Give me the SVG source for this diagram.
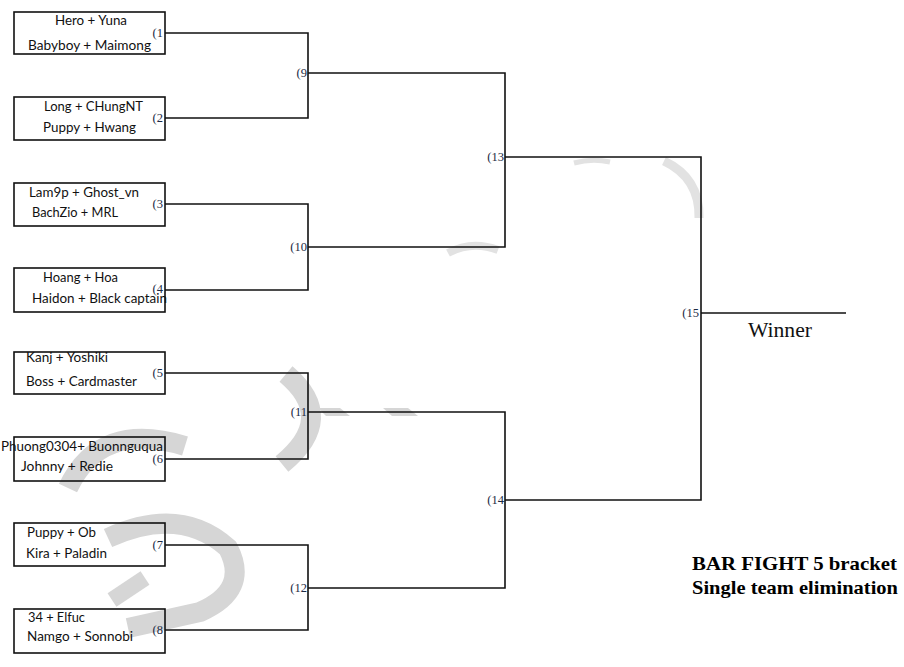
<svg xmlns="http://www.w3.org/2000/svg" width="904" height="667" viewBox="0 0 904 667">
<style>
.wm{fill:none;stroke:#d6d6d6;stroke-linecap:butt}
.wm2{fill:none;stroke:#e2e2e2;stroke-linecap:butt}
.wmf{fill:#d6d6d6}
.box{fill:none;stroke:#111;stroke-width:1.6}
.ln{fill:none;stroke:#111;stroke-width:1.6}
.team{font-family:Lato,"Liberation Sans",sans-serif;font-size:13px;fill:#111}
.lab{font-family:"Liberation Serif",serif;font-size:12.5px;fill:#1c2a44;text-anchor:end}
.win{font-family:"Liberation Serif",serif;font-size:21px;fill:#111}
.title{font-family:"Liberation Serif",serif;font-size:19px;font-weight:bold;fill:#000}
</style>
<rect width="904" height="667" fill="#fff"/>
<g id="watermark">
<path class="wm" stroke-width="20" d="M68 488 Q100 420 185 446"/>
<path class="wm" stroke-width="20" d="M108 538 Q180 505 228 548 Q250 590 200 612 L128 628"/>
<path class="wm" stroke-width="16" d="M112 600 L145 578"/>
<path class="wm" stroke-width="20" d="M286 374 Q338 418 282 464"/>
<polygon class="wmf" points="318,408 340,408 350,416 326,416"/>
<polygon class="wmf" points="383,408 408,408 418,416 392,416"/>
<path class="wm2" stroke-width="8" d="M448 253 Q472 240 498 250"/>
<path class="wm2" stroke-width="5" d="M574 163 Q592 158 610 162"/>
<path class="wm2" stroke-width="9" d="M664 161 Q700 178 699 218"/>
</g>
<g id="connectors">
<path class="ln" d="M165 33 H308 V118 H165"/>
<path class="ln" d="M165 204 H308 V290 H165"/>
<path class="ln" d="M165 373 H308 V459 H165"/>
<path class="ln" d="M165 545 H308 V630 H165"/>
<path class="ln" d="M308 73 H505 V247 H308"/>
<path class="ln" d="M308 412 H505 V588 H308"/>
<path class="ln" d="M505 157 H701 V500 H505"/>
<path class="ln" d="M701 313 H846"/>
</g>
<g id="team1"><rect class="box" x="14" y="12" width="151" height="42"/>
<text class="team" x="55" y="25" textLength="72" lengthAdjust="spacingAndGlyphs">Hero + Yuna</text>
<text class="team" x="28" y="50" textLength="123" lengthAdjust="spacingAndGlyphs">Babyboy + Maimong</text></g>
<g id="team2"><rect class="box" x="14" y="97" width="151" height="43"/>
<text class="team" x="44" y="111" textLength="99" lengthAdjust="spacingAndGlyphs">Long + CHungNT</text>
<text class="team" x="43" y="132" textLength="93" lengthAdjust="spacingAndGlyphs">Puppy + Hwang</text></g>
<g id="team3"><rect class="box" x="14" y="183" width="151" height="43"/>
<text class="team" x="29" y="197" textLength="110" lengthAdjust="spacingAndGlyphs">Lam9p + Ghost_vn</text>
<text class="team" x="32" y="217" textLength="86" lengthAdjust="spacingAndGlyphs">BachZio + MRL</text></g>
<g id="team4"><rect class="box" x="14" y="268" width="151" height="44"/>
<text class="team" x="43" y="282" textLength="75" lengthAdjust="spacingAndGlyphs">Hoang + Hoa</text>
<text class="team" x="32" y="303" textLength="135" lengthAdjust="spacingAndGlyphs">Haidon + Black captain</text></g>
<g id="team5"><rect class="box" x="14" y="352" width="151" height="42"/>
<text class="team" x="26" y="362" textLength="82" lengthAdjust="spacingAndGlyphs">Kanj + Yoshiki</text>
<text class="team" x="26" y="386" textLength="111" lengthAdjust="spacingAndGlyphs">Boss + Cardmaster</text></g>
<g id="team6"><rect class="box" x="14" y="437" width="151" height="44"/>
<text class="team" x="1" y="451" textLength="162" lengthAdjust="spacingAndGlyphs">Phuong0304+ Buonnguqua</text>
<text class="team" x="21" y="471" textLength="92" lengthAdjust="spacingAndGlyphs">Johnny + Redie</text></g>
<g id="team7"><rect class="box" x="14" y="523" width="151" height="43"/>
<text class="team" x="27" y="537" textLength="69" lengthAdjust="spacingAndGlyphs">Puppy + Ob</text>
<text class="team" x="26" y="558" textLength="81" lengthAdjust="spacingAndGlyphs">Kira + Paladin</text></g>
<g id="team8"><rect class="box" x="14" y="609" width="151" height="44"/>
<text class="team" x="28" y="622" textLength="57" lengthAdjust="spacingAndGlyphs">34 + Elfuc</text>
<text class="team" x="27" y="641" textLength="106" lengthAdjust="spacingAndGlyphs">Namgo + Sonnobi</text></g>
<g id="labels">
<text class="lab" x="163" y="37">(1</text>
<text class="lab" x="163" y="122">(2</text>
<text class="lab" x="163" y="208">(3</text>
<text class="lab" x="163" y="293">(4</text>
<text class="lab" x="163" y="377">(5</text>
<text class="lab" x="163" y="463">(6</text>
<text class="lab" x="163" y="549">(7</text>
<text class="lab" x="163" y="634">(8</text>
<text class="lab" x="307" y="77">(9</text>
<text class="lab" x="307" y="251">(10</text>
<text class="lab" x="307" y="416">(11</text>
<text class="lab" x="307" y="592">(12</text>
<text class="lab" x="504" y="161">(13</text>
<text class="lab" x="504" y="504">(14</text>
<text class="lab" x="699" y="317">(15</text>
</g>
<g id="winner"><text class="win" x="748" y="337" textLength="64" lengthAdjust="spacingAndGlyphs">Winner</text></g>
<g id="title">
<text class="title" x="692" y="570" textLength="205" lengthAdjust="spacingAndGlyphs">BAR FIGHT 5 bracket</text>
<text class="title" x="692" y="594" textLength="206" lengthAdjust="spacingAndGlyphs">Single team elimination</text>
</g>
</svg>
